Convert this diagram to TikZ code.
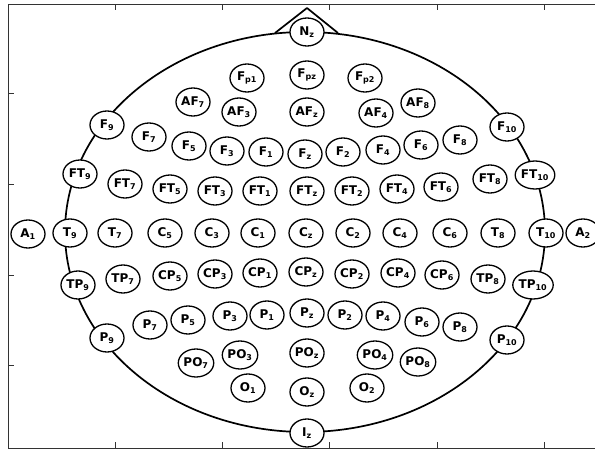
\documentclass[tikz,border=0pt]{standalone}
\usepackage{fontspec}
\usepackage{tikz}
\usetikzlibrary{shapes.geometric}
\newfontfamily\elecfont{DejaVu Sans}
\newcommand{\el}[2]{#1\textsubscript{#2}}

\begin{document}
\begin{tikzpicture}[
  x=1pt,y=-1pt,
  elec/.style={draw,ellipse,line width=1.3pt,fill=white,minimum width=34pt,minimum height=28pt,inner sep=0pt,
    font=\elecfont\fontsize{12}{12}\selectfont\bfseries},
  head/.style={line width=1.7pt},
  frame/.style={line width=0.8pt,black!80}
]
\useasboundingbox (0,0) rectangle (595,450);
% axes frame and ticks
\draw[frame] (600,4) -- (8,4) -- (8,448) -- (600,448);
\foreach \tx in {115,222,329,437,544} {
  \draw[frame] (\tx,4) -- (\tx,10);
  \draw[frame] (\tx,448) -- (\tx,442);
}
\foreach \ty in {93,184,275,365}
  \draw[frame] (8,\ty) -- (14,\ty);
% head outline and nose
\draw[head] (305,232) ellipse [x radius=240,y radius=200];
\draw[head,line join=round] (275,33) -- (307,8) -- (338,33);
% electrodes
\foreach \name/\a/\b/\x/\y in {
  Nz/N/z/307/32,
  Fp1/F/p1/247/78, Fpz/F/pz/307/75, Fp2/F/p2/365/78,
  AF7/AF/7/193/102, AF3/AF/3/239/112, AFz/AF/z/307/112, AF4/AF/4/376/113, AF8/AF/8/418/103,
  F9/F/9/107/125, F7/F/7/149/137, F5/F/5/189/146, F3/F/3/227/151, F1/F/1/266/152,
  Fz/F/z/305/154, F2/F/2/343/152, F4/F/4/383/150, F6/F/6/421/145, F8/F/8/460/140, F10/F/10/507/127,
  FT9/FT/9/80/174, FT7/FT/7/125/184, FT5/FT/5/170/189, FT3/FT/3/215/191, FT1/FT/1/260/191,
  FTz/FT/z/307/191, FT2/FT/2/352/191, FT4/FT/4/397/189, FT6/FT/6/441/187, FT8/FT/8/490/179, FT10/FT/10/535/175,
  A1/A/1/28/234, T9/T/9/70/233, T7/T/7/115/233, C5/C/5/165/233, C3/C/3/212/233, C1/C/1/258/233,
  Cz/C/z/306/233, C2/C/2/353/233, C4/C/4/400/233, C6/C/6/450/233, T8/T/8/498/233, T10/T/10/546/233, A2/A/2/583/233,
  TP9/TP/9/78/285, TP7/TP/7/123/279, CP5/CP/5/170/276, CP3/CP/3/215/274, CP1/CP/1/260/273,
  CPz/CP/z/306/272, CP2/CP/2/352/274, CP4/CP/4/398/273, CP6/CP/6/442/275, TP8/TP/8/488/279, TP10/TP/10/533/285,
  P9/P/9/107/338, P7/P/7/150/325, P5/P/5/188/320, P3/P/3/230/316, P1/P/1/267/315,
  Pz/P/z/307/313, P2/P/2/345/315, P4/P/4/383/316, P6/P/6/422/322, P8/P/8/460/327, P10/P/10/507/340,
  PO7/PO/7/196/363, PO3/PO/3/240/355, POz/PO/z/307/353, PO4/PO/4/375/355, PO8/PO/8/418/362,
  O1/O/1/248/388, Oz/O/z/307/392, O2/O/2/367/388,
  Iz/I/z/307/433}
  \node[elec] (\name) at (\x,\y) {\el{\a}{\b}};
\end{tikzpicture}
\end{document}
